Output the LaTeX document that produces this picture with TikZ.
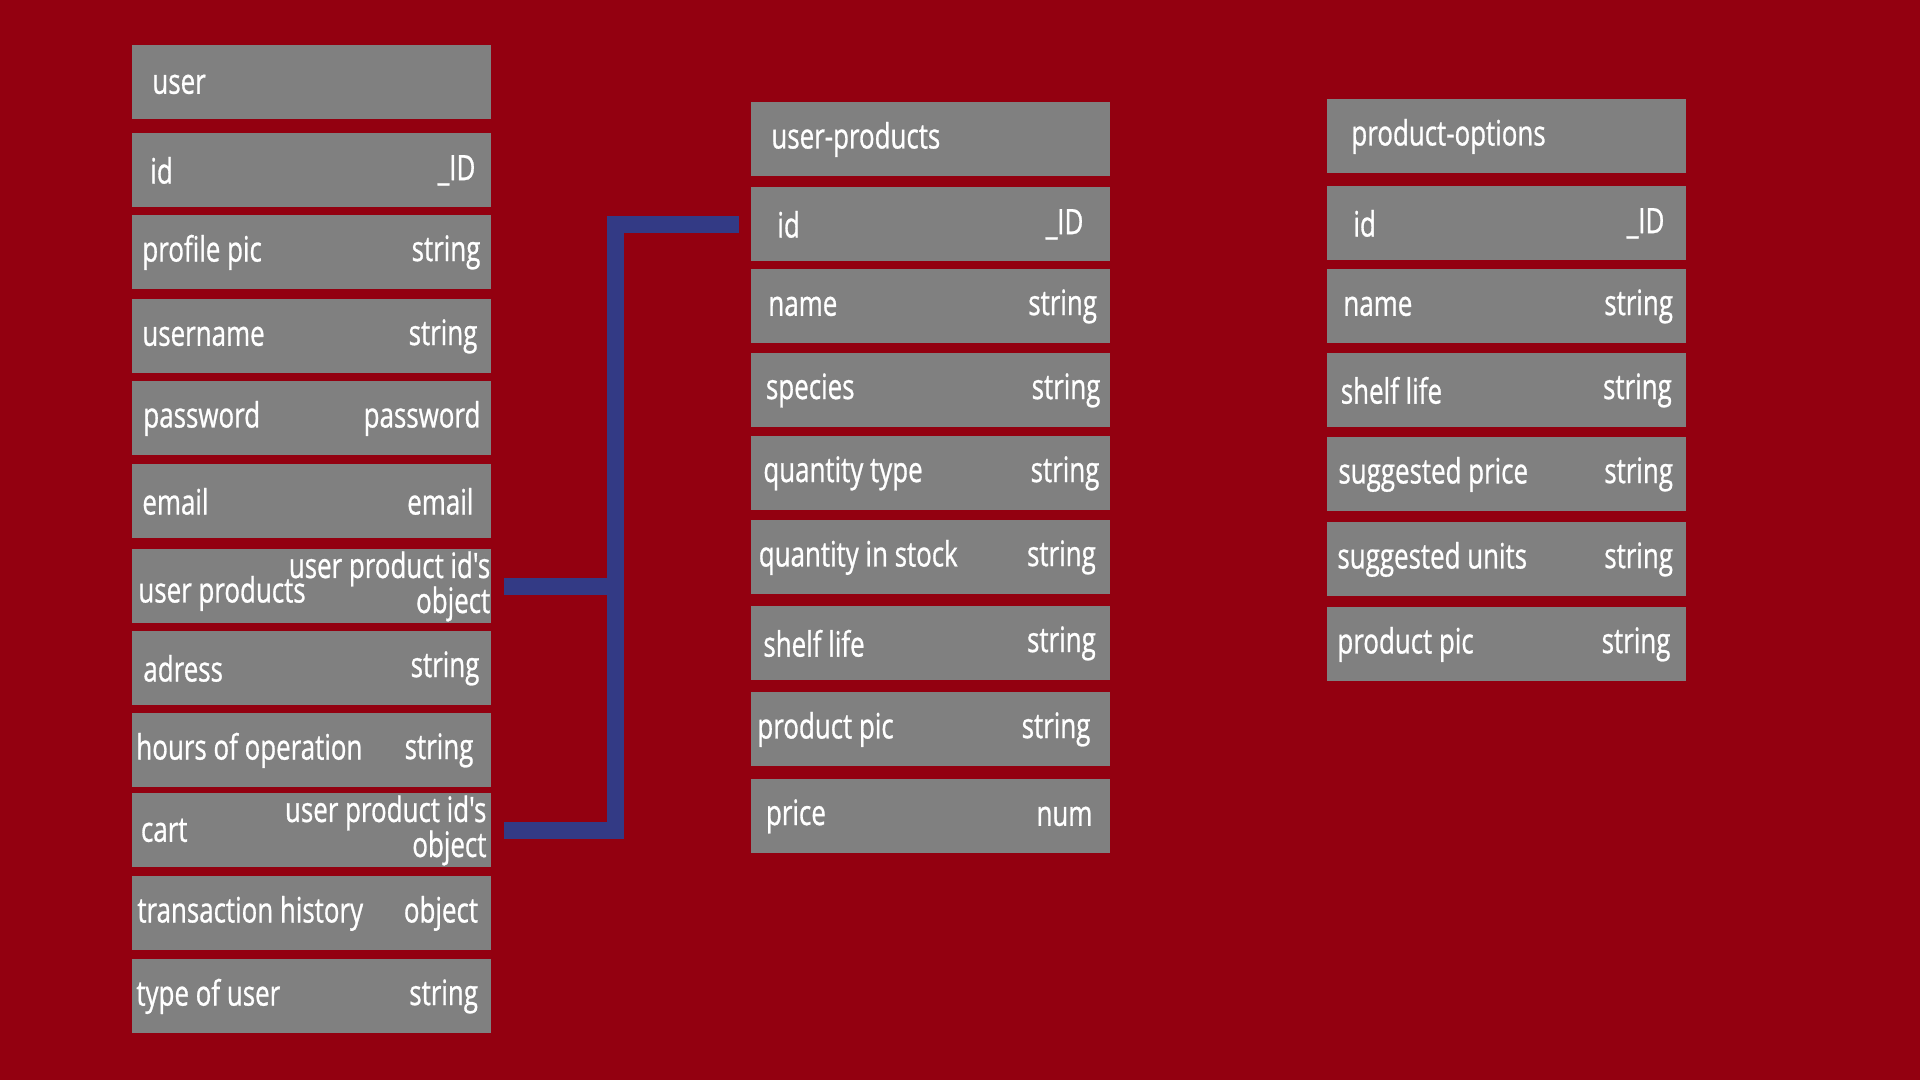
\documentclass[tikz,border=0pt]{standalone}
\usepackage{fontspec}
\setmainfont{Open Sans}[FakeStretch=0.74,FakeBold=0.8,Ligatures=TeXOff]
\definecolor{bgred}{HTML}{930010}
\definecolor{boxgray}{HTML}{808080}
\definecolor{linkblue}{HTML}{333A85}
\begin{document}
\begin{tikzpicture}
  [x=0.5pt,y=-0.5pt,
   every node/.style={text=white,font=\fontsize{17.5}{17.5}\selectfont},
   box/.style={rectangle,fill=boxgray,anchor=north west,inner sep=0pt,
               minimum width=179.5pt,minimum height=37pt},
   lbl/.style={anchor=west,inner sep=0pt},
   typ/.style={anchor=east,inner sep=0pt,align=right},
   link/.style={draw=linkblue,line width=8.5pt}]
  \fill[bgred] (0,0) rectangle (1920,1080);

  % user
  \node[box] (u0) at (132,45) {};
  \node[lbl] at ([xshift=10pt,yshift=-1pt]u0.west) {user};
  \foreach \i/\y/\a/\b/\dy/\name/\type in {
      1/133/9/8/0/id/\_ID,
      2/215/5/5.5/0/profile pic/string,
      3/299/5/7/0/username/string,
      4/381/5.5/5.5/0/password/password,
      5/464/5/9/0/email/email,
      6/549/3/0.6/-3.5/user products/{user product id's\\object},
      7/631/5.5/6/0/adress/string,
      8/713/2/9/0/hours of operation/string,
      9/793/4.3/2.5/0/cart/{user product id's\\object},
      10/876/2.5/6.7/0/transaction history/object,
      11/959/2/6.7/0/type of user/string}
  {
    \node[box] (u\i) at (132,\y) {};
    \node[lbl] at ([xshift=\a pt,yshift=\dy pt]u\i.west) {\name};
    \node[typ] at ([xshift=-\b pt]u\i.east) {\type};
  }

  % user-products
  \node[box] (p0) at (751,102) {};
  \node[lbl] at ([xshift=10pt]p0.west) {user-products};
  \foreach \i/\y/\a/\b/\name/\type in {
      1/187/13/13.5/id/\_ID,
      2/269/8.5/6.7/name/string,
      3/353/7.3/5/species/string,
      4/436/6/5.5/quantity type/string,
      5/520/3.7/7.3/quantity in stock/string,
      6/606/6/7.3/shelf life/string,
      7/692/3/10/product pic/string,
      8/779/7.3/9/price/num}
  {
    \node[box] (p\i) at (751,\y) {};
    \node[lbl] at ([xshift=\a pt]p\i.west) {\name};
    \node[typ] at ([xshift=-\b pt]p\i.east) {\type};
  }

  % product-options
  \node[box] (o0) at (1327,99) {};
  \node[lbl] at ([xshift=12pt]o0.west) {product-options};
  \foreach \i/\y/\a/\b/\name/\type in {
      1/186/13/11/id/\_ID,
      2/269/8/6.7/name/string,
      3/353/6.7/7.3/shelf life/string,
      4/437/5.5/6.7/suggested price/string,
      5/522/5/6.7/suggested units/string,
      6/607/5/8/product pic/string}
  {
    \node[box] (o\i) at (1327,\y) {};
    \node[lbl] at ([xshift=\a pt]o\i.west) {\name};
    \node[typ] at ([xshift=-\b pt]o\i.east) {\type};
  }

  % links
  \coordinate (bus) at (615,500);
  \draw[link] ([xshift=6pt]u9.east) -| (bus) |- ([xshift=-6pt]p1.west);
  \draw[link] ([xshift=6pt]u6.east) -- (u6.east -| bus);

\end{tikzpicture}
\end{document}
